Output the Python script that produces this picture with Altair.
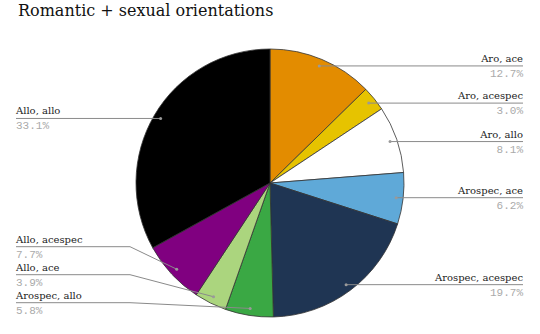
import altair as alt
import pandas as pd

# ---- data ----
categories = ["Aro, ace", "Aro, acespec", "Aro, allo", "Arospec, ace",
              "Arospec, acespec", "Arospec, allo", "Allo, ace", "Allo, acespec",
              "Allo, allo"]
values = [12.7, 3.0, 8.1, 6.2, 19.7, 5.8, 3.9, 7.7, 33.1]
colors = ["#e38c00", "#e6c300", "#ffffff", "#5fa9d8", "#1f3553",
          "#3aa844", "#abd57e", "#800080", "#000000"]

df = pd.DataFrame({"cat": categories, "value": values,
                   "idx": list(range(len(categories)))})

# ---- layout constants ----
W, H = 540, 302
PAD_TOP = 32
CX, CY = 270, 151
R_OUT = 134
R_DOT = 127
LEFT_X = 16
RIGHT_X = 523
BEND_LEFT = 130
BEND_RIGHT = 410
BOTTOM_Y = 270.7
SPACING = 28
LABEL_FONT = "DejaVu Serif"
PCT_FONT = "Liberation Mono"

base = alt.Chart(df)

arc = base.mark_arc(outerRadius=R_OUT, stroke="#333333", strokeWidth=0.8).encode(
    theta=alt.Theta("value:Q", stack=True),
    order=alt.Order("idx:Q"),
    color=alt.Color("cat:N", scale=alt.Scale(domain=categories, range=colors),
                    legend=None),
    x=alt.value(CX),
    y=alt.value(CY),
)

geo = base.transform_window(
    cum="sum(value)", sort=[alt.SortField("idx")], frame=[None, 0]
).transform_joinaggregate(
    total="sum(value)"
).transform_calculate(
    mid="(datum.cum - datum.value/2)/datum.total*2*PI"
).transform_calculate(
    px=f"{CX} + {R_DOT}*sin(datum.mid)",
    py=f"{CY} - {R_DOT}*cos(datum.mid)",
    side="sin(datum.mid) < 0 ? 'left' : 'right'",
).transform_window(
    rk="row_number()", groupby=["side"], sort=[alt.SortField("mid")]
).transform_calculate(
    ly=f"datum.side == 'left' ? min(datum.py, {BOTTOM_Y} - {SPACING}*(datum.rk-1)) : datum.py",
    tx=f"datum.side == 'left' ? {LEFT_X} : {RIGHT_X}",
    bx=f"datum.side == 'left' ? {BEND_LEFT} : {BEND_RIGHT}",
    pct="format(datum.value, '.1f') + '%'",
)

LINE_COLOR = "#8a8a8a"
rule1 = geo.mark_rule(color=LINE_COLOR, strokeWidth=1).encode(
    x=alt.X("tx:Q", scale=None), x2="bx:Q",
    y=alt.Y("ly:Q", scale=None), y2="ly:Q",
)
rule2 = geo.mark_rule(color=LINE_COLOR, strokeWidth=1).encode(
    x=alt.X("bx:Q", scale=None), x2="px:Q",
    y=alt.Y("ly:Q", scale=None), y2="py:Q",
)
dots = geo.mark_circle(size=9, color="#9a9a9a", opacity=1).encode(
    x=alt.X("px:Q", scale=None), y=alt.Y("py:Q", scale=None),
)

def texts(side, align):
    g = geo.transform_filter(f"datum.side == '{side}'")
    name = g.mark_text(align=align, baseline="alphabetic", dy=-4,
                       font=LABEL_FONT, fontSize=10, color="#222222").encode(
        x=alt.X("tx:Q", scale=None), y=alt.Y("ly:Q", scale=None), text="cat:N")
    pct = g.mark_text(align=align, baseline="alphabetic", dy=11,
                      font=PCT_FONT, fontSize=11, color="#aaaaaa").encode(
        x=alt.X("tx:Q", scale=None), y=alt.Y("ly:Q", scale=None), text="pct:N")
    return [name, pct]

layers = [arc, rule1, rule2, dots] + texts("left", "left") + texts("right", "right")

chart = alt.layer(*layers).properties(
    width=W, height=H,
    title=alt.TitleParams("Romantic + sexual orientations", anchor="start",
                          frame="group", dx=18, offset=0, baseline="alphabetic",
                          font=LABEL_FONT, fontSize=16, fontWeight="normal",
                          color="#111111"),
    autosize=alt.AutoSizeParams(type="none"),
    padding={"left": 0, "right": 0, "top": PAD_TOP, "bottom": 0},
).configure_view(stroke=None)

chart.save("out.html", embed_options={"renderer": "svg", "actions": False})
